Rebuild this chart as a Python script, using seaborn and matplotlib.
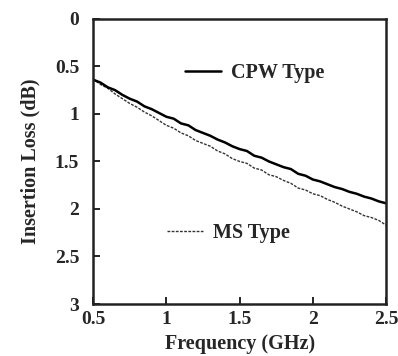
import numpy as np
import pandas as pd
import matplotlib
matplotlib.use("Agg")
import matplotlib.pyplot as plt
import seaborn as sns
from matplotlib.lines import Line2D

# ——— Data ———
freq_ghz = [0.50, 0.55, 0.60, 0.65, 0.70, 0.75, 0.80, 0.85, 0.90, 0.95,
            1.00, 1.05, 1.10, 1.15, 1.20, 1.25, 1.30, 1.35, 1.40, 1.45,
            1.50, 1.55, 1.60, 1.65, 1.70, 1.75, 1.80, 1.85, 1.90, 1.95,
            2.00, 2.05, 2.10, 2.15, 2.20, 2.25, 2.30, 2.35, 2.40, 2.45, 2.50]
cpw_loss = [0.64, 0.67, 0.72, 0.75, 0.80, 0.84, 0.87, 0.92, 0.95, 0.99,
            1.03, 1.05, 1.10, 1.12, 1.17, 1.20, 1.23, 1.27, 1.30, 1.34,
            1.37, 1.39, 1.44, 1.46, 1.50, 1.53, 1.56, 1.58, 1.63, 1.65,
            1.69, 1.71, 1.74, 1.77, 1.79, 1.82, 1.84, 1.87, 1.89, 1.92, 1.94]
ms_loss = [0.63, 0.69, 0.73, 0.79, 0.84, 0.89, 0.93, 0.98, 1.02, 1.07,
           1.12, 1.15, 1.20, 1.23, 1.28, 1.31, 1.34, 1.39, 1.42, 1.47,
           1.50, 1.52, 1.57, 1.59, 1.64, 1.66, 1.70, 1.73, 1.78, 1.80,
           1.84, 1.86, 1.90, 1.93, 1.97, 2.00, 2.03, 2.07, 2.09, 2.12, 2.17]
x_ticks = [0.5, 1, 1.5, 2, 2.5]
x_tick_labels = ["0.5", "1", "1.5", "2", "2.5"]
y_ticks = [0, 0.5, 1, 1.5, 2, 2.5, 3]
y_tick_labels = ["0", "0.5", "1", "1.5", "2", "2.5", "3"]

df = pd.DataFrame({"Frequency": freq_ghz, "CPW": cpw_loss, "MS": ms_loss})

sns.set_style("ticks")
plt.rcParams["font.family"] = ["Liberation Serif", "DejaVu Serif"]
plt.rcParams["font.weight"] = "bold"

fig = plt.figure(figsize=(3.98, 3.56), dpi=100)
ax = fig.add_axes([0.234, 0.146, 0.736, 0.801])

ms_style = (0, (2, 1))
sns.lineplot(data=df, x="Frequency", y="MS", ax=ax, color="#333333",
             linewidth=1.0, linestyle=ms_style)
sns.lineplot(data=df, x="Frequency", y="CPW", ax=ax, color="black",
             linewidth=1.8)

ax.set_xlim(0.5, 2.5)
ax.set_ylim(3, 0)
ax.set_xticks(x_ticks)
ax.set_xticklabels(x_tick_labels)
ax.set_yticks(y_ticks)
ax.set_yticklabels(y_tick_labels)
ax.tick_params(direction="in", length=5, width=1.2, labelsize=14,
               top=False, right=False, color="black")
ax.tick_params(axis="y", pad=10)
ax.tick_params(axis="x", pad=5)
for sp in ax.spines.values():
    sp.set_visible(True)
    sp.set_linewidth(1.8)
    sp.set_color("#222222")

ax.set_xlabel("Frequency (GHz)", fontsize=14.5, fontweight="bold", labelpad=4)
ax.set_ylabel("Insertion Loss (dB)", fontsize=14.5, fontweight="bold", labelpad=10)

# Legend entries placed separately, as in the reference
leg1 = ax.legend(handles=[Line2D([], [], color="black", linewidth=1.8)],
                 labels=["CPW Type"], loc="center left",
                 bbox_to_anchor=(0.252, 0.81), frameon=False,
                 handlelength=1.8, handletextpad=0.5, fontsize=14.5)
ax.add_artist(leg1)
ax.legend(handles=[Line2D([], [], color="#333333", linewidth=1.0,
                          linestyle=ms_style)],
          labels=["MS Type"], loc="center left",
          bbox_to_anchor=(0.19, 0.249), frameon=False,
          handlelength=1.8, handletextpad=0.5, fontsize=14.5)

fig.savefig("out.png", dpi=100)
